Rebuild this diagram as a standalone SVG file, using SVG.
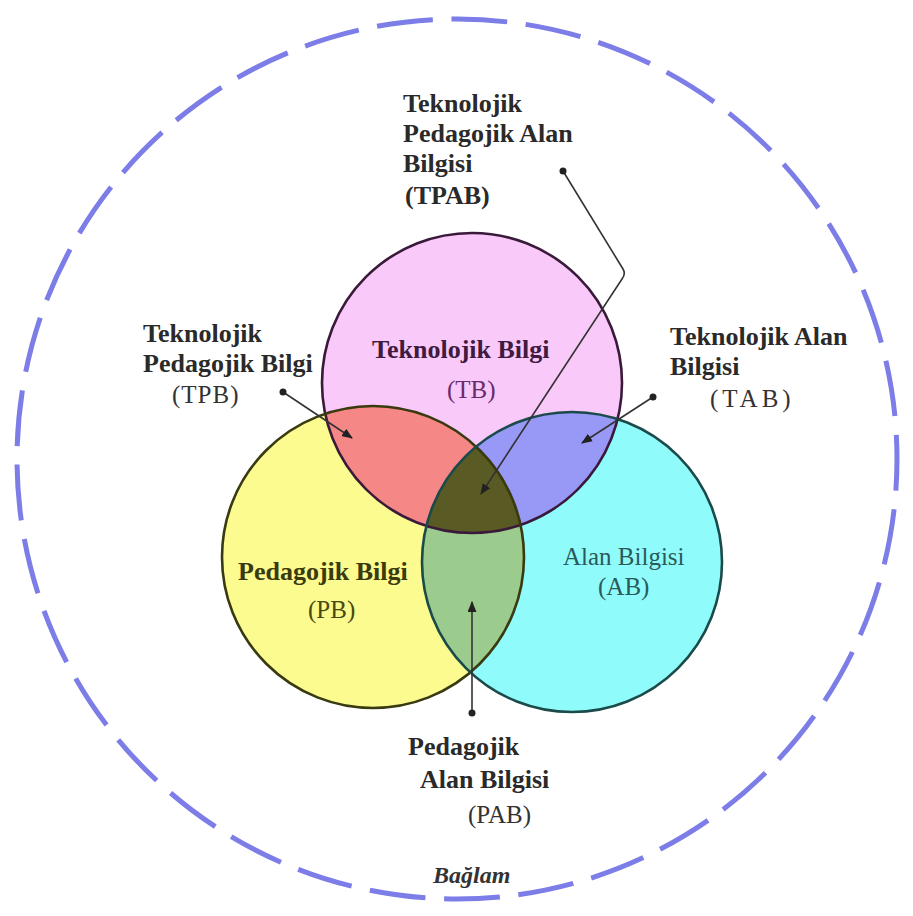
<svg xmlns="http://www.w3.org/2000/svg" width="913" height="916" viewBox="0 0 913 916">
<style>
.lbl{font-family:"Liberation Serif","Times New Roman",serif;font-size:26px;font-weight:bold;fill:#2a2a2a}
.abbr{font-family:"Liberation Serif","Times New Roman",serif;font-size:25px;fill:#333}
.ring{fill:none;stroke-width:2.6}
.conn{fill:none;stroke:#333;stroke-width:1.6}
.dot{fill:#222}
</style>
<defs>
<clipPath id="cPink"><circle cx="472" cy="383" r="150"/></clipPath>
<clipPath id="cYellow"><circle cx="373" cy="557" r="151"/></clipPath>
<clipPath id="cCyan"><circle cx="572" cy="562" r="150"/></clipPath>
<marker id="arr" markerWidth="11" markerHeight="9" refX="10" refY="4.5" orient="auto" markerUnits="userSpaceOnUse">
<path d="M0,0 L11,4.5 L0,9 z" fill="#222"/>
</marker>
</defs>
<rect width="913" height="916" fill="#ffffff"/>

<g id="context">
<circle cx="457" cy="459" r="440" fill="none" stroke="#7d7de8" stroke-width="5" stroke-dasharray="56 18.7" stroke-dashoffset="24.3"/>
<text x="433" y="883" style="font-family:'Liberation Serif','Times New Roman',serif;font-size:24px;font-weight:bold;font-style:italic;fill:#333">Bağlam</text>
</g>

<g id="fills">
<circle cx="472" cy="383" r="150" fill="#f9c9f9"/>
<circle cx="373" cy="557" r="151" fill="#fbfb90"/>
<circle cx="572" cy="562" r="150" fill="#90fbfb"/>
<circle cx="373" cy="557" r="151" fill="#f68787" clip-path="url(#cPink)"/>
<circle cx="572" cy="562" r="150" fill="#9898f7" clip-path="url(#cPink)"/>
<circle cx="572" cy="562" r="150" fill="#9ccb8e" clip-path="url(#cYellow)"/>
<g clip-path="url(#cPink)"><circle cx="572" cy="562" r="150" fill="#5a5a24" clip-path="url(#cYellow)"/></g>
</g>

<g id="node-TB">
<circle class="ring" cx="472" cy="383" r="150" stroke="#3a1a3a"/>
<text class="lbl" x="372" y="358" style="fill:#401a40">Teknolojik Bilgi</text>
<text class="abbr" x="447" y="398" style="fill:#6a2a6a">(TB)</text>
</g>

<g id="node-PB">
<circle class="ring" cx="373" cy="557" r="151" stroke="#3a3a10"/>
<text class="lbl" x="238" y="580" style="fill:#3a3a0a">Pedagojik Bilgi</text>
<text class="abbr" x="308" y="618" style="fill:#4a4a10">(PB)</text>
</g>

<g id="node-AB">
<circle class="ring" cx="572" cy="562" r="150" stroke="#1a4a4a"/>
<text class="abbr" x="563" y="565" style="fill:#2a5a5a">Alan Bilgisi</text>
<text class="abbr" x="598" y="595" style="fill:#2a5a5a">(AB)</text>
</g>

<g id="connectors">
<path class="conn" d="M563,171 L623,269 Q626,274 622,279 L481,494" marker-end="url(#arr)"/>
<path class="conn" d="M283,392 L352,438" marker-end="url(#arr)"/>
<path class="conn" d="M653,397 L582,443" marker-end="url(#arr)"/>
<path class="conn" d="M472,713 L472,602" marker-end="url(#arr)"/>
<circle class="dot" cx="563" cy="171" r="3.5"/>
<circle class="dot" cx="283" cy="392" r="3.5"/>
<circle class="dot" cx="653" cy="397" r="3.5"/>
<circle class="dot" cx="472" cy="713" r="3.5"/>
</g>

<g id="label-TPAB">
<text class="lbl" x="403" y="112">Teknolojik</text>
<text class="lbl" x="403" y="142">Pedagojik Alan</text>
<text class="lbl" x="403" y="172">Bilgisi</text>
<text class="lbl" x="405" y="204">(TPAB)</text>
</g>

<g id="label-TPB">
<text class="lbl" x="143" y="342">Teknolojik</text>
<text class="lbl" x="143" y="372">Pedagojik Bilgi</text>
<text class="abbr" x="172" y="403" style="letter-spacing:1px">(TPB)</text>
</g>

<g id="label-TAB">
<text class="lbl" x="670" y="345">Teknolojik Alan</text>
<text class="lbl" x="670" y="375">Bilgisi</text>
<text class="abbr" x="710" y="407" style="letter-spacing:4px">(TAB)</text>
</g>

<g id="label-PAB">
<text class="lbl" x="408" y="755">Pedagojik</text>
<text class="lbl" x="420" y="788">Alan Bilgisi</text>
<text class="abbr" x="468" y="823">(PAB)</text>
</g>
</svg>
